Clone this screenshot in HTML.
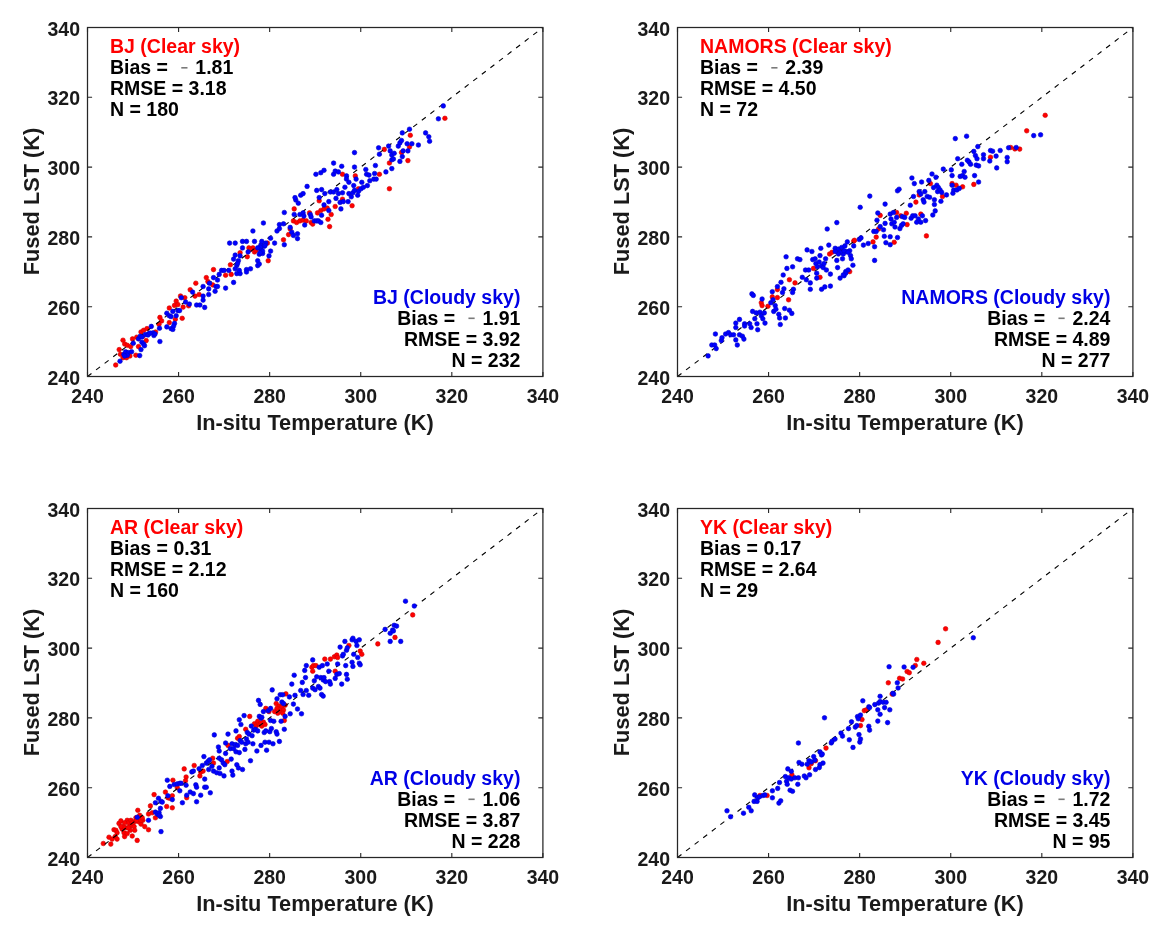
<!DOCTYPE html><html><head><meta charset="utf-8"><style>
html,body{margin:0;padding:0;background:#fff;width:1173px;height:933px;overflow:hidden}
svg{display:block;will-change:transform}text{font-family:"Liberation Sans",sans-serif;font-weight:bold}
</style></head><body>
<svg width="1173" height="933" viewBox="0 0 1173 933">
<rect width="1173" height="933" fill="#fff"/>
<g fill="#ff0000" stroke="#d00000" stroke-width="0.6"><circle cx="115.7" cy="365.0" r="2.3"/><circle cx="119.2" cy="349.6" r="2.3"/><circle cx="120.4" cy="354.3" r="2.3"/><circle cx="123.0" cy="340.2" r="2.3"/><circle cx="124.7" cy="344.0" r="2.3"/><circle cx="127.3" cy="345.3" r="2.3"/><circle cx="130.7" cy="346.6" r="2.3"/><circle cx="132.5" cy="338.9" r="2.3"/><circle cx="136.7" cy="337.2" r="2.3"/><circle cx="138.5" cy="346.6" r="2.3"/><circle cx="135.9" cy="355.2" r="2.3"/><circle cx="141.0" cy="332.0" r="2.3"/><circle cx="143.6" cy="330.3" r="2.3"/><circle cx="147.0" cy="328.6" r="2.3"/><circle cx="146.2" cy="340.6" r="2.3"/><circle cx="142.7" cy="336.3" r="2.3"/><circle cx="155.6" cy="332.0" r="2.3"/><circle cx="159.9" cy="317.4" r="2.3"/><circle cx="161.6" cy="320.9" r="2.3"/><circle cx="159.0" cy="324.3" r="2.3"/><circle cx="169.3" cy="308.0" r="2.3"/><circle cx="169.3" cy="322.6" r="2.3"/><circle cx="176.2" cy="301.1" r="2.3"/><circle cx="174.5" cy="305.4" r="2.3"/><circle cx="177.9" cy="304.6" r="2.3"/><circle cx="183.1" cy="307.1" r="2.3"/><circle cx="182.2" cy="318.3" r="2.3"/><circle cx="175.3" cy="319.2" r="2.3"/><circle cx="180.5" cy="296.0" r="2.3"/><circle cx="184.8" cy="297.7" r="2.3"/><circle cx="123.0" cy="357.7" r="2.3"/><circle cx="126.5" cy="357.7" r="2.3"/><circle cx="129.9" cy="356.0" r="2.3"/><circle cx="190.2" cy="289.7" r="2.3"/><circle cx="195.8" cy="283.2" r="2.3"/><circle cx="195.0" cy="296.1" r="2.3"/><circle cx="199.1" cy="294.5" r="2.3"/><circle cx="206.3" cy="277.6" r="2.3"/><circle cx="207.9" cy="281.6" r="2.3"/><circle cx="213.5" cy="269.6" r="2.3"/><circle cx="212.7" cy="284.9" r="2.3"/><circle cx="225.6" cy="275.2" r="2.3"/><circle cx="230.4" cy="264.8" r="2.3"/><circle cx="231.2" cy="274.4" r="2.3"/><circle cx="240.1" cy="252.7" r="2.3"/><circle cx="247.3" cy="256.7" r="2.3"/><circle cx="248.9" cy="247.9" r="2.3"/><circle cx="252.9" cy="247.9" r="2.3"/><circle cx="254.5" cy="251.9" r="2.3"/><circle cx="267.4" cy="243.1" r="2.3"/><circle cx="268.2" cy="260.7" r="2.3"/><circle cx="283.5" cy="239.8" r="2.3"/><circle cx="188.6" cy="305.8" r="2.3"/><circle cx="250.5" cy="249.5" r="2.3"/><circle cx="256.1" cy="250.3" r="2.3"/><circle cx="288.6" cy="234.6" r="2.3"/><circle cx="290.2" cy="229.0" r="2.3"/><circle cx="293.4" cy="220.9" r="2.3"/><circle cx="294.2" cy="208.9" r="2.3"/><circle cx="296.6" cy="222.5" r="2.3"/><circle cx="299.9" cy="220.9" r="2.3"/><circle cx="303.1" cy="220.1" r="2.3"/><circle cx="306.3" cy="220.9" r="2.3"/><circle cx="309.5" cy="212.9" r="2.3"/><circle cx="311.1" cy="222.5" r="2.3"/><circle cx="312.7" cy="224.1" r="2.3"/><circle cx="317.5" cy="212.9" r="2.3"/><circle cx="319.2" cy="200.8" r="2.3"/><circle cx="320.8" cy="210.5" r="2.3"/><circle cx="324.0" cy="208.9" r="2.3"/><circle cx="327.2" cy="208.1" r="2.3"/><circle cx="328.0" cy="219.3" r="2.3"/><circle cx="329.6" cy="226.6" r="2.3"/><circle cx="331.2" cy="214.5" r="2.3"/><circle cx="335.2" cy="206.5" r="2.3"/><circle cx="342.5" cy="174.3" r="2.3"/><circle cx="342.5" cy="199.2" r="2.3"/><circle cx="352.1" cy="205.7" r="2.3"/><circle cx="355.3" cy="175.9" r="2.3"/><circle cx="358.5" cy="188.8" r="2.3"/><circle cx="379.4" cy="174.3" r="2.3"/><circle cx="384.3" cy="149.4" r="2.3"/><circle cx="389.4" cy="163.0" r="2.3"/><circle cx="401.5" cy="152.5" r="2.3"/><circle cx="410.3" cy="135.3" r="2.3"/><circle cx="409.5" cy="146.9" r="2.3"/><circle cx="407.9" cy="160.6" r="2.3"/><circle cx="444.9" cy="118.3" r="2.3"/><circle cx="389.4" cy="188.7" r="2.3"/></g>
<line x1="87.5" y1="376.5" x2="542.9" y2="27.5" stroke="#000" stroke-width="1.1" stroke-dasharray="5 5.8"/>
<g fill="#0000ff" stroke="#0000c8" stroke-width="0.6"><circle cx="120.0" cy="361.2" r="2.3"/><circle cx="123.9" cy="354.3" r="2.3"/><circle cx="125.6" cy="351.7" r="2.3"/><circle cx="128.2" cy="352.6" r="2.3"/><circle cx="131.6" cy="351.7" r="2.3"/><circle cx="133.3" cy="343.2" r="2.3"/><circle cx="138.5" cy="338.9" r="2.3"/><circle cx="140.2" cy="336.3" r="2.3"/><circle cx="141.9" cy="342.3" r="2.3"/><circle cx="143.6" cy="344.0" r="2.3"/><circle cx="144.5" cy="345.7" r="2.3"/><circle cx="141.0" cy="349.6" r="2.3"/><circle cx="139.7" cy="355.6" r="2.3"/><circle cx="145.3" cy="334.6" r="2.3"/><circle cx="148.7" cy="333.7" r="2.3"/><circle cx="151.3" cy="326.4" r="2.3"/><circle cx="153.0" cy="332.9" r="2.3"/><circle cx="153.9" cy="335.5" r="2.3"/><circle cx="159.5" cy="328.2" r="2.3"/><circle cx="159.9" cy="341.5" r="2.3"/><circle cx="166.8" cy="313.2" r="2.3"/><circle cx="169.3" cy="315.7" r="2.3"/><circle cx="171.0" cy="316.6" r="2.3"/><circle cx="172.8" cy="311.4" r="2.3"/><circle cx="176.2" cy="315.7" r="2.3"/><circle cx="177.9" cy="310.6" r="2.3"/><circle cx="179.6" cy="310.6" r="2.3"/><circle cx="174.5" cy="323.4" r="2.3"/><circle cx="166.8" cy="326.9" r="2.3"/><circle cx="171.0" cy="328.6" r="2.3"/><circle cx="172.8" cy="329.4" r="2.3"/><circle cx="173.6" cy="326.0" r="2.3"/><circle cx="181.3" cy="297.7" r="2.3"/><circle cx="185.6" cy="302.0" r="2.3"/><circle cx="127.3" cy="355.2" r="2.3"/><circle cx="124.7" cy="356.0" r="2.3"/><circle cx="148.0" cy="335.0" r="2.3"/><circle cx="150.0" cy="333.0" r="2.3"/><circle cx="142.0" cy="337.0" r="2.3"/><circle cx="155.0" cy="334.0" r="2.3"/><circle cx="189.4" cy="304.1" r="2.3"/><circle cx="192.6" cy="292.1" r="2.3"/><circle cx="196.6" cy="305.0" r="2.3"/><circle cx="199.9" cy="305.0" r="2.3"/><circle cx="203.1" cy="286.5" r="2.3"/><circle cx="203.1" cy="296.1" r="2.3"/><circle cx="203.1" cy="300.1" r="2.3"/><circle cx="204.7" cy="307.4" r="2.3"/><circle cx="208.7" cy="294.5" r="2.3"/><circle cx="209.5" cy="283.2" r="2.3"/><circle cx="208.7" cy="288.9" r="2.3"/><circle cx="213.5" cy="277.6" r="2.3"/><circle cx="215.1" cy="291.3" r="2.3"/><circle cx="215.9" cy="286.5" r="2.3"/><circle cx="217.5" cy="286.5" r="2.3"/><circle cx="217.5" cy="280.0" r="2.3"/><circle cx="219.2" cy="274.4" r="2.3"/><circle cx="221.6" cy="270.4" r="2.3"/><circle cx="224.0" cy="270.4" r="2.3"/><circle cx="225.6" cy="288.1" r="2.3"/><circle cx="228.8" cy="270.4" r="2.3"/><circle cx="233.6" cy="282.4" r="2.3"/><circle cx="229.6" cy="243.1" r="2.3"/><circle cx="235.2" cy="243.1" r="2.3"/><circle cx="235.2" cy="255.1" r="2.3"/><circle cx="236.8" cy="265.6" r="2.3"/><circle cx="236.8" cy="273.6" r="2.3"/><circle cx="240.1" cy="273.6" r="2.3"/><circle cx="238.4" cy="260.7" r="2.3"/><circle cx="240.1" cy="255.9" r="2.3"/><circle cx="242.5" cy="247.9" r="2.3"/><circle cx="242.5" cy="241.4" r="2.3"/><circle cx="246.5" cy="241.4" r="2.3"/><circle cx="246.5" cy="269.6" r="2.3"/><circle cx="246.5" cy="272.0" r="2.3"/><circle cx="250.5" cy="268.8" r="2.3"/><circle cx="248.1" cy="251.9" r="2.3"/><circle cx="252.9" cy="231.0" r="2.3"/><circle cx="254.5" cy="241.4" r="2.3"/><circle cx="257.7" cy="260.7" r="2.3"/><circle cx="257.7" cy="265.6" r="2.3"/><circle cx="259.3" cy="264.0" r="2.3"/><circle cx="261.0" cy="244.7" r="2.3"/><circle cx="261.0" cy="249.5" r="2.3"/><circle cx="262.6" cy="253.5" r="2.3"/><circle cx="264.2" cy="246.3" r="2.3"/><circle cx="263.4" cy="223.0" r="2.3"/><circle cx="269.0" cy="255.9" r="2.3"/><circle cx="270.6" cy="238.2" r="2.3"/><circle cx="270.6" cy="251.1" r="2.3"/><circle cx="274.6" cy="243.1" r="2.3"/><circle cx="277.0" cy="231.0" r="2.3"/><circle cx="279.4" cy="228.6" r="2.3"/><circle cx="279.4" cy="224.6" r="2.3"/><circle cx="283.5" cy="223.8" r="2.3"/><circle cx="284.3" cy="212.5" r="2.3"/><circle cx="284.3" cy="244.7" r="2.3"/><circle cx="261.8" cy="241.4" r="2.3"/><circle cx="259.3" cy="254.3" r="2.3"/><circle cx="265.8" cy="243.1" r="2.3"/><circle cx="260.2" cy="247.1" r="2.3"/><circle cx="262.6" cy="251.1" r="2.3"/><circle cx="260.2" cy="252.7" r="2.3"/><circle cx="265.0" cy="245.5" r="2.3"/><circle cx="257.7" cy="247.9" r="2.3"/><circle cx="235.2" cy="268.8" r="2.3"/><circle cx="237.6" cy="263.2" r="2.3"/><circle cx="239.3" cy="270.4" r="2.3"/><circle cx="233.6" cy="259.1" r="2.3"/><circle cx="290.2" cy="227.4" r="2.3"/><circle cx="291.8" cy="232.2" r="2.3"/><circle cx="293.4" cy="235.4" r="2.3"/><circle cx="297.5" cy="233.8" r="2.3"/><circle cx="297.5" cy="238.6" r="2.3"/><circle cx="294.2" cy="214.5" r="2.3"/><circle cx="295.8" cy="200.0" r="2.3"/><circle cx="295.0" cy="197.6" r="2.3"/><circle cx="298.3" cy="203.2" r="2.3"/><circle cx="300.7" cy="195.2" r="2.3"/><circle cx="303.1" cy="193.6" r="2.3"/><circle cx="299.9" cy="214.5" r="2.3"/><circle cx="303.1" cy="212.9" r="2.3"/><circle cx="303.9" cy="216.1" r="2.3"/><circle cx="304.7" cy="225.0" r="2.3"/><circle cx="307.1" cy="186.4" r="2.3"/><circle cx="310.3" cy="214.5" r="2.3"/><circle cx="311.1" cy="216.9" r="2.3"/><circle cx="314.3" cy="220.9" r="2.3"/><circle cx="316.7" cy="220.9" r="2.3"/><circle cx="318.4" cy="220.9" r="2.3"/><circle cx="320.8" cy="222.5" r="2.3"/><circle cx="321.6" cy="215.3" r="2.3"/><circle cx="315.9" cy="174.3" r="2.3"/><circle cx="320.8" cy="172.7" r="2.3"/><circle cx="324.0" cy="170.3" r="2.3"/><circle cx="316.7" cy="190.4" r="2.3"/><circle cx="321.6" cy="189.6" r="2.3"/><circle cx="324.8" cy="193.6" r="2.3"/><circle cx="319.2" cy="197.6" r="2.3"/><circle cx="324.0" cy="204.9" r="2.3"/><circle cx="328.8" cy="201.6" r="2.3"/><circle cx="328.8" cy="210.5" r="2.3"/><circle cx="330.4" cy="192.0" r="2.3"/><circle cx="333.6" cy="163.1" r="2.3"/><circle cx="333.6" cy="174.3" r="2.3"/><circle cx="335.2" cy="171.1" r="2.3"/><circle cx="338.4" cy="171.9" r="2.3"/><circle cx="333.6" cy="192.0" r="2.3"/><circle cx="336.8" cy="189.6" r="2.3"/><circle cx="336.0" cy="198.4" r="2.3"/><circle cx="338.4" cy="193.6" r="2.3"/><circle cx="341.7" cy="166.3" r="2.3"/><circle cx="342.5" cy="192.8" r="2.3"/><circle cx="340.9" cy="208.9" r="2.3"/><circle cx="340.1" cy="202.4" r="2.3"/><circle cx="343.3" cy="201.6" r="2.3"/><circle cx="344.9" cy="187.2" r="2.3"/><circle cx="346.5" cy="175.9" r="2.3"/><circle cx="346.5" cy="179.1" r="2.3"/><circle cx="348.9" cy="182.3" r="2.3"/><circle cx="348.9" cy="193.6" r="2.3"/><circle cx="348.1" cy="201.6" r="2.3"/><circle cx="351.3" cy="196.8" r="2.3"/><circle cx="352.9" cy="192.8" r="2.3"/><circle cx="354.5" cy="167.1" r="2.3"/><circle cx="354.5" cy="152.6" r="2.3"/><circle cx="353.7" cy="185.6" r="2.3"/><circle cx="354.5" cy="190.4" r="2.3"/><circle cx="356.1" cy="179.1" r="2.3"/><circle cx="357.7" cy="195.2" r="2.3"/><circle cx="358.5" cy="191.2" r="2.3"/><circle cx="361.0" cy="188.8" r="2.3"/><circle cx="361.8" cy="182.3" r="2.3"/><circle cx="363.4" cy="187.2" r="2.3"/><circle cx="365.8" cy="169.5" r="2.3"/><circle cx="366.6" cy="174.3" r="2.3"/><circle cx="367.4" cy="185.6" r="2.3"/><circle cx="369.0" cy="175.1" r="2.3"/><circle cx="369.8" cy="180.7" r="2.3"/><circle cx="373.8" cy="179.1" r="2.3"/><circle cx="374.6" cy="173.5" r="2.3"/><circle cx="375.4" cy="165.5" r="2.3"/><circle cx="376.2" cy="179.1" r="2.3"/><circle cx="378.6" cy="147.8" r="2.3"/><circle cx="379.4" cy="154.2" r="2.3"/><circle cx="385.9" cy="171.9" r="2.3"/><circle cx="391.8" cy="168.6" r="2.3"/><circle cx="388.6" cy="146.1" r="2.3"/><circle cx="390.2" cy="150.9" r="2.3"/><circle cx="391.8" cy="155.0" r="2.3"/><circle cx="394.2" cy="153.3" r="2.3"/><circle cx="391.8" cy="159.8" r="2.3"/><circle cx="393.4" cy="159.0" r="2.3"/><circle cx="398.3" cy="146.1" r="2.3"/><circle cx="399.9" cy="142.9" r="2.3"/><circle cx="401.5" cy="140.5" r="2.3"/><circle cx="399.9" cy="161.4" r="2.3"/><circle cx="402.3" cy="156.6" r="2.3"/><circle cx="403.1" cy="150.9" r="2.3"/><circle cx="402.3" cy="132.9" r="2.3"/><circle cx="407.9" cy="150.9" r="2.3"/><circle cx="407.1" cy="143.7" r="2.3"/><circle cx="411.9" cy="143.7" r="2.3"/><circle cx="409.5" cy="129.2" r="2.3"/><circle cx="418.4" cy="145.0" r="2.3"/><circle cx="425.6" cy="132.9" r="2.3"/><circle cx="428.8" cy="136.8" r="2.3"/><circle cx="429.6" cy="141.3" r="2.3"/><circle cx="438.4" cy="118.8" r="2.3"/><circle cx="443.3" cy="105.9" r="2.3"/></g>
<rect x="87.5" y="27.5" width="455.4" height="349" fill="none" stroke="#262626" stroke-width="1.25"/>
<path d="M87.50 376.5v-4.6M87.50 27.5v4.6M87.5 376.50h4.6M542.9 376.50h-4.6M178.58 376.5v-4.6M178.58 27.5v4.6M87.5 306.70h4.6M542.9 306.70h-4.6M269.66 376.5v-4.6M269.66 27.5v4.6M87.5 236.90h4.6M542.9 236.90h-4.6M360.74 376.5v-4.6M360.74 27.5v4.6M87.5 167.10h4.6M542.9 167.10h-4.6M451.82 376.5v-4.6M451.82 27.5v4.6M87.5 97.30h4.6M542.9 97.30h-4.6M542.90 376.5v-4.6M542.90 27.5v4.6M87.5 27.50h4.6M542.9 27.50h-4.6" stroke="#262626" stroke-width="1.1" fill="none"/>
<g font-size="19.5" fill="#1a1a1a"><text x="87.50" y="402.50" text-anchor="middle">240</text><text x="80.00" y="384.60" text-anchor="end">240</text><text x="178.58" y="402.50" text-anchor="middle">260</text><text x="80.00" y="314.80" text-anchor="end">260</text><text x="269.66" y="402.50" text-anchor="middle">280</text><text x="80.00" y="245.00" text-anchor="end">280</text><text x="360.74" y="402.50" text-anchor="middle">300</text><text x="80.00" y="175.20" text-anchor="end">300</text><text x="451.82" y="402.50" text-anchor="middle">320</text><text x="80.00" y="105.40" text-anchor="end">320</text><text x="542.90" y="402.50" text-anchor="middle">340</text><text x="80.00" y="35.60" text-anchor="end">340</text></g>
<text x="315.00" y="430.00" font-size="21.75" text-anchor="middle" fill="#1a1a1a">In-situ Temperature (K)</text>
<text transform="translate(39.20,201.50) rotate(-90)" x="0" y="0" font-size="21.75" text-anchor="middle" fill="#1a1a1a">Fused LST (K)</text>
<g font-size="19.5" fill="#000"><text x="110" y="53.30" fill="#ff0000">BJ (Clear sky)</text><text x="110.00" y="74.20">Bias =</text><rect x="181.29" y="67.00" width="6.2" height="1.6" fill="#7a7a7a"/><text x="195.29" y="74.20">1.81</text><text x="110" y="95.10">RMSE = 3.18</text><text x="110" y="116.00">N = 180</text><text x="520.4" y="303.80" fill="#0000e6" text-anchor="end">BJ (Cloudy sky)</text><text x="397.16" y="324.70">Bias =</text><rect x="468.45" y="317.50" width="6.2" height="1.6" fill="#7a7a7a"/><text x="482.45" y="324.70">1.91</text><text x="520.4" y="345.60" text-anchor="end">RMSE = 3.92</text><text x="520.4" y="366.50" text-anchor="end">N = 232</text></g>
<g fill="#ff0000" stroke="#d00000" stroke-width="0.6"><circle cx="761.3" cy="302.7" r="2.3"/><circle cx="762.1" cy="305.6" r="2.3"/><circle cx="767.9" cy="306.3" r="2.3"/><circle cx="772.3" cy="296.9" r="2.3"/><circle cx="777.4" cy="297.6" r="2.3"/><circle cx="777.4" cy="289.6" r="2.3"/><circle cx="789.4" cy="279.7" r="2.3"/><circle cx="795.0" cy="282.9" r="2.3"/><circle cx="788.6" cy="299.8" r="2.3"/><circle cx="813.5" cy="268.4" r="2.3"/><circle cx="820.0" cy="277.3" r="2.3"/><circle cx="829.6" cy="254.0" r="2.3"/><circle cx="832.0" cy="252.3" r="2.3"/><circle cx="836.8" cy="251.5" r="2.3"/><circle cx="840.1" cy="250.7" r="2.3"/><circle cx="849.7" cy="271.6" r="2.3"/><circle cx="853.7" cy="241.1" r="2.3"/><circle cx="854.5" cy="240.3" r="2.3"/><circle cx="873.0" cy="241.9" r="2.3"/><circle cx="876.2" cy="237.1" r="2.3"/><circle cx="878.6" cy="229.0" r="2.3"/><circle cx="880.2" cy="215.4" r="2.3"/><circle cx="894.2" cy="242.3" r="2.3"/><circle cx="896.6" cy="212.5" r="2.3"/><circle cx="900.7" cy="215.8" r="2.3"/><circle cx="906.3" cy="213.3" r="2.3"/><circle cx="907.1" cy="224.6" r="2.3"/><circle cx="915.9" cy="202.1" r="2.3"/><circle cx="919.2" cy="194.9" r="2.3"/><circle cx="920.8" cy="214.1" r="2.3"/><circle cx="926.4" cy="235.9" r="2.3"/><circle cx="930.4" cy="183.6" r="2.3"/><circle cx="942.5" cy="196.5" r="2.3"/><circle cx="952.1" cy="183.6" r="2.3"/><circle cx="956.1" cy="185.2" r="2.3"/><circle cx="962.6" cy="186.8" r="2.3"/><circle cx="973.8" cy="184.4" r="2.3"/><circle cx="990.5" cy="157.2" r="2.3"/><circle cx="1010.7" cy="147.5" r="2.3"/><circle cx="1014.9" cy="148.9" r="2.3"/><circle cx="1019.7" cy="149.1" r="2.3"/><circle cx="1026.7" cy="130.8" r="2.3"/><circle cx="1045.2" cy="115.3" r="2.3"/></g>
<line x1="677.5" y1="376.5" x2="1132.9" y2="27.5" stroke="#000" stroke-width="1.1" stroke-dasharray="5 5.8"/>
<g fill="#0000ff" stroke="#0000c8" stroke-width="0.6"><circle cx="708.1" cy="355.9" r="2.3"/><circle cx="711.8" cy="345.0" r="2.3"/><circle cx="714.7" cy="345.0" r="2.3"/><circle cx="716.2" cy="348.6" r="2.3"/><circle cx="715.4" cy="334.0" r="2.3"/><circle cx="721.3" cy="340.6" r="2.3"/><circle cx="722.0" cy="337.7" r="2.3"/><circle cx="725.6" cy="334.0" r="2.3"/><circle cx="728.5" cy="332.6" r="2.3"/><circle cx="730.7" cy="334.8" r="2.3"/><circle cx="733.6" cy="334.8" r="2.3"/><circle cx="735.8" cy="323.1" r="2.3"/><circle cx="735.8" cy="327.5" r="2.3"/><circle cx="735.8" cy="339.9" r="2.3"/><circle cx="737.3" cy="345.0" r="2.3"/><circle cx="739.5" cy="319.4" r="2.3"/><circle cx="739.5" cy="334.8" r="2.3"/><circle cx="742.4" cy="336.2" r="2.3"/><circle cx="743.9" cy="339.1" r="2.3"/><circle cx="744.6" cy="323.8" r="2.3"/><circle cx="744.6" cy="326.0" r="2.3"/><circle cx="749.7" cy="323.8" r="2.3"/><circle cx="751.1" cy="327.5" r="2.3"/><circle cx="751.9" cy="293.9" r="2.3"/><circle cx="753.3" cy="295.4" r="2.3"/><circle cx="752.6" cy="311.4" r="2.3"/><circle cx="754.8" cy="318.7" r="2.3"/><circle cx="756.2" cy="312.9" r="2.3"/><circle cx="757.0" cy="323.8" r="2.3"/><circle cx="757.7" cy="329.7" r="2.3"/><circle cx="759.9" cy="312.2" r="2.3"/><circle cx="761.3" cy="315.8" r="2.3"/><circle cx="762.1" cy="299.0" r="2.3"/><circle cx="762.8" cy="318.7" r="2.3"/><circle cx="765.0" cy="323.1" r="2.3"/><circle cx="764.3" cy="312.9" r="2.3"/><circle cx="770.8" cy="302.7" r="2.3"/><circle cx="772.3" cy="291.7" r="2.3"/><circle cx="773.0" cy="299.8" r="2.3"/><circle cx="773.7" cy="311.4" r="2.3"/><circle cx="775.2" cy="305.6" r="2.3"/><circle cx="775.9" cy="309.2" r="2.3"/><circle cx="777.4" cy="286.6" r="2.3"/><circle cx="778.8" cy="314.3" r="2.3"/><circle cx="779.6" cy="318.0" r="2.3"/><circle cx="780.3" cy="324.5" r="2.3"/><circle cx="781.0" cy="282.3" r="2.3"/><circle cx="782.5" cy="292.5" r="2.3"/><circle cx="783.2" cy="275.0" r="2.3"/><circle cx="783.9" cy="288.8" r="2.3"/><circle cx="784.7" cy="308.5" r="2.3"/><circle cx="785.4" cy="318.0" r="2.3"/><circle cx="786.1" cy="256.8" r="2.3"/><circle cx="786.9" cy="268.4" r="2.3"/><circle cx="792.6" cy="266.8" r="2.3"/><circle cx="797.5" cy="258.8" r="2.3"/><circle cx="799.9" cy="259.6" r="2.3"/><circle cx="793.4" cy="289.3" r="2.3"/><circle cx="792.6" cy="292.5" r="2.3"/><circle cx="791.8" cy="313.4" r="2.3"/><circle cx="789.4" cy="310.2" r="2.3"/><circle cx="802.3" cy="277.3" r="2.3"/><circle cx="805.5" cy="270.0" r="2.3"/><circle cx="806.3" cy="279.7" r="2.3"/><circle cx="807.1" cy="249.9" r="2.3"/><circle cx="808.7" cy="270.0" r="2.3"/><circle cx="810.3" cy="282.9" r="2.3"/><circle cx="810.3" cy="289.3" r="2.3"/><circle cx="811.9" cy="251.5" r="2.3"/><circle cx="812.7" cy="259.6" r="2.3"/><circle cx="815.1" cy="258.8" r="2.3"/><circle cx="815.9" cy="263.6" r="2.3"/><circle cx="816.7" cy="273.2" r="2.3"/><circle cx="816.7" cy="278.1" r="2.3"/><circle cx="819.2" cy="262.0" r="2.3"/><circle cx="820.8" cy="248.3" r="2.3"/><circle cx="820.0" cy="255.6" r="2.3"/><circle cx="821.6" cy="266.0" r="2.3"/><circle cx="821.6" cy="289.3" r="2.3"/><circle cx="823.2" cy="267.6" r="2.3"/><circle cx="824.8" cy="286.9" r="2.3"/><circle cx="825.6" cy="258.8" r="2.3"/><circle cx="826.4" cy="270.0" r="2.3"/><circle cx="827.2" cy="229.0" r="2.3"/><circle cx="828.8" cy="245.1" r="2.3"/><circle cx="830.4" cy="274.1" r="2.3"/><circle cx="830.4" cy="286.1" r="2.3"/><circle cx="835.2" cy="248.3" r="2.3"/><circle cx="836.8" cy="222.6" r="2.3"/><circle cx="836.8" cy="260.4" r="2.3"/><circle cx="837.6" cy="267.6" r="2.3"/><circle cx="838.4" cy="249.1" r="2.3"/><circle cx="840.1" cy="278.1" r="2.3"/><circle cx="841.7" cy="247.5" r="2.3"/><circle cx="842.5" cy="258.8" r="2.3"/><circle cx="843.3" cy="254.0" r="2.3"/><circle cx="844.1" cy="275.7" r="2.3"/><circle cx="844.9" cy="245.9" r="2.3"/><circle cx="845.7" cy="271.6" r="2.3"/><circle cx="846.5" cy="251.5" r="2.3"/><circle cx="847.3" cy="241.9" r="2.3"/><circle cx="848.1" cy="270.0" r="2.3"/><circle cx="849.7" cy="250.7" r="2.3"/><circle cx="850.5" cy="255.6" r="2.3"/><circle cx="851.3" cy="258.8" r="2.3"/><circle cx="852.9" cy="265.2" r="2.3"/><circle cx="853.7" cy="245.9" r="2.3"/><circle cx="859.3" cy="239.5" r="2.3"/><circle cx="860.2" cy="207.3" r="2.3"/><circle cx="861.0" cy="237.9" r="2.3"/><circle cx="863.4" cy="245.1" r="2.3"/><circle cx="868.2" cy="243.5" r="2.3"/><circle cx="869.8" cy="196.1" r="2.3"/><circle cx="874.6" cy="246.7" r="2.3"/><circle cx="874.6" cy="260.4" r="2.3"/><circle cx="873.8" cy="231.4" r="2.3"/><circle cx="876.2" cy="231.4" r="2.3"/><circle cx="877.0" cy="220.2" r="2.3"/><circle cx="877.8" cy="213.0" r="2.3"/><circle cx="880.2" cy="226.6" r="2.3"/><circle cx="883.5" cy="229.8" r="2.3"/><circle cx="885.1" cy="204.1" r="2.3"/><circle cx="884.3" cy="236.3" r="2.3"/><circle cx="885.9" cy="242.7" r="2.3"/><circle cx="885.1" cy="223.4" r="2.3"/><circle cx="840.1" cy="252.3" r="2.3"/><circle cx="844.1" cy="250.7" r="2.3"/><circle cx="848.1" cy="252.3" r="2.3"/><circle cx="838.4" cy="254.0" r="2.3"/><circle cx="835.2" cy="251.5" r="2.3"/><circle cx="845.7" cy="273.2" r="2.3"/><circle cx="843.3" cy="274.9" r="2.3"/><circle cx="824.0" cy="263.6" r="2.3"/><circle cx="817.5" cy="266.8" r="2.3"/><circle cx="890.2" cy="214.1" r="2.3"/><circle cx="891.0" cy="219.0" r="2.3"/><circle cx="891.8" cy="223.8" r="2.3"/><circle cx="893.4" cy="212.5" r="2.3"/><circle cx="894.2" cy="222.2" r="2.3"/><circle cx="895.0" cy="227.0" r="2.3"/><circle cx="896.6" cy="217.4" r="2.3"/><circle cx="897.5" cy="190.8" r="2.3"/><circle cx="899.1" cy="189.2" r="2.3"/><circle cx="899.9" cy="228.6" r="2.3"/><circle cx="901.5" cy="225.4" r="2.3"/><circle cx="902.3" cy="216.6" r="2.3"/><circle cx="903.1" cy="223.8" r="2.3"/><circle cx="904.7" cy="217.4" r="2.3"/><circle cx="890.2" cy="236.7" r="2.3"/><circle cx="897.5" cy="237.5" r="2.3"/><circle cx="910.3" cy="205.3" r="2.3"/><circle cx="911.1" cy="218.2" r="2.3"/><circle cx="911.9" cy="178.0" r="2.3"/><circle cx="912.7" cy="215.8" r="2.3"/><circle cx="913.5" cy="196.5" r="2.3"/><circle cx="914.3" cy="183.6" r="2.3"/><circle cx="915.1" cy="215.8" r="2.3"/><circle cx="916.7" cy="222.2" r="2.3"/><circle cx="918.4" cy="219.0" r="2.3"/><circle cx="919.2" cy="191.6" r="2.3"/><circle cx="920.8" cy="194.1" r="2.3"/><circle cx="920.8" cy="222.2" r="2.3"/><circle cx="921.6" cy="182.0" r="2.3"/><circle cx="922.4" cy="215.8" r="2.3"/><circle cx="923.2" cy="199.7" r="2.3"/><circle cx="924.0" cy="202.1" r="2.3"/><circle cx="924.8" cy="191.6" r="2.3"/><circle cx="925.6" cy="220.6" r="2.3"/><circle cx="927.2" cy="196.5" r="2.3"/><circle cx="928.8" cy="180.4" r="2.3"/><circle cx="929.6" cy="197.3" r="2.3"/><circle cx="932.0" cy="174.0" r="2.3"/><circle cx="932.8" cy="215.0" r="2.3"/><circle cx="933.6" cy="187.6" r="2.3"/><circle cx="934.4" cy="204.5" r="2.3"/><circle cx="934.4" cy="199.7" r="2.3"/><circle cx="935.2" cy="210.9" r="2.3"/><circle cx="936.0" cy="177.2" r="2.3"/><circle cx="936.8" cy="185.2" r="2.3"/><circle cx="937.6" cy="191.6" r="2.3"/><circle cx="938.4" cy="187.6" r="2.3"/><circle cx="940.1" cy="190.0" r="2.3"/><circle cx="940.9" cy="201.3" r="2.3"/><circle cx="941.7" cy="192.4" r="2.3"/><circle cx="943.3" cy="169.1" r="2.3"/><circle cx="946.5" cy="194.9" r="2.3"/><circle cx="951.3" cy="169.9" r="2.3"/><circle cx="952.1" cy="175.6" r="2.3"/><circle cx="952.1" cy="185.2" r="2.3"/><circle cx="952.9" cy="193.2" r="2.3"/><circle cx="953.7" cy="190.0" r="2.3"/><circle cx="955.3" cy="138.6" r="2.3"/><circle cx="956.9" cy="190.0" r="2.3"/><circle cx="957.7" cy="158.7" r="2.3"/><circle cx="959.3" cy="188.4" r="2.3"/><circle cx="960.2" cy="176.4" r="2.3"/><circle cx="961.8" cy="164.3" r="2.3"/><circle cx="962.6" cy="175.6" r="2.3"/><circle cx="964.2" cy="171.5" r="2.3"/><circle cx="965.0" cy="177.2" r="2.3"/><circle cx="966.6" cy="136.2" r="2.3"/><circle cx="967.4" cy="160.3" r="2.3"/><circle cx="969.0" cy="161.9" r="2.3"/><circle cx="970.6" cy="164.3" r="2.3"/><circle cx="973.8" cy="151.4" r="2.3"/><circle cx="974.6" cy="175.6" r="2.3"/><circle cx="975.4" cy="155.5" r="2.3"/><circle cx="976.2" cy="165.1" r="2.3"/><circle cx="977.0" cy="158.7" r="2.3"/><circle cx="977.8" cy="146.6" r="2.3"/><circle cx="978.6" cy="165.9" r="2.3"/><circle cx="978.6" cy="182.0" r="2.3"/><circle cx="983.5" cy="154.7" r="2.3"/><circle cx="983.5" cy="158.7" r="2.3"/><circle cx="890.2" cy="244.7" r="2.3"/><circle cx="990.5" cy="150.5" r="2.3"/><circle cx="992.6" cy="151.2" r="2.3"/><circle cx="989.8" cy="161.0" r="2.3"/><circle cx="996.1" cy="156.1" r="2.3"/><circle cx="996.7" cy="167.9" r="2.3"/><circle cx="1000.2" cy="150.5" r="2.3"/><circle cx="1007.2" cy="157.5" r="2.3"/><circle cx="1007.2" cy="161.7" r="2.3"/><circle cx="1008.6" cy="147.7" r="2.3"/><circle cx="1016.2" cy="147.5" r="2.3"/><circle cx="1033.7" cy="135.6" r="2.3"/><circle cx="1040.6" cy="134.8" r="2.3"/></g>
<rect x="677.5" y="27.5" width="455.4" height="349" fill="none" stroke="#262626" stroke-width="1.25"/>
<path d="M677.50 376.5v-4.6M677.50 27.5v4.6M677.5 376.50h4.6M1132.9 376.50h-4.6M768.58 376.5v-4.6M768.58 27.5v4.6M677.5 306.70h4.6M1132.9 306.70h-4.6M859.66 376.5v-4.6M859.66 27.5v4.6M677.5 236.90h4.6M1132.9 236.90h-4.6M950.74 376.5v-4.6M950.74 27.5v4.6M677.5 167.10h4.6M1132.9 167.10h-4.6M1041.82 376.5v-4.6M1041.82 27.5v4.6M677.5 97.30h4.6M1132.9 97.30h-4.6M1132.90 376.5v-4.6M1132.90 27.5v4.6M677.5 27.50h4.6M1132.9 27.50h-4.6" stroke="#262626" stroke-width="1.1" fill="none"/>
<g font-size="19.5" fill="#1a1a1a"><text x="677.50" y="402.50" text-anchor="middle">240</text><text x="670.00" y="384.60" text-anchor="end">240</text><text x="768.58" y="402.50" text-anchor="middle">260</text><text x="670.00" y="314.80" text-anchor="end">260</text><text x="859.66" y="402.50" text-anchor="middle">280</text><text x="670.00" y="245.00" text-anchor="end">280</text><text x="950.74" y="402.50" text-anchor="middle">300</text><text x="670.00" y="175.20" text-anchor="end">300</text><text x="1041.82" y="402.50" text-anchor="middle">320</text><text x="670.00" y="105.40" text-anchor="end">320</text><text x="1132.90" y="402.50" text-anchor="middle">340</text><text x="670.00" y="35.60" text-anchor="end">340</text></g>
<text x="905.00" y="430.00" font-size="21.75" text-anchor="middle" fill="#1a1a1a">In-situ Temperature (K)</text>
<text transform="translate(629.20,201.50) rotate(-90)" x="0" y="0" font-size="21.75" text-anchor="middle" fill="#1a1a1a">Fused LST (K)</text>
<g font-size="19.5" fill="#000"><text x="700" y="53.30" fill="#ff0000">NAMORS (Clear sky)</text><text x="700.00" y="74.20">Bias =</text><rect x="771.29" y="67.00" width="6.2" height="1.6" fill="#7a7a7a"/><text x="785.29" y="74.20">2.39</text><text x="700" y="95.10">RMSE = 4.50</text><text x="700" y="116.00">N = 72</text><text x="1110.4" y="303.80" fill="#0000e6" text-anchor="end">NAMORS (Cloudy sky)</text><text x="987.16" y="324.70">Bias =</text><rect x="1058.45" y="317.50" width="6.2" height="1.6" fill="#7a7a7a"/><text x="1072.45" y="324.70">2.24</text><text x="1110.4" y="345.60" text-anchor="end">RMSE = 4.89</text><text x="1110.4" y="366.50" text-anchor="end">N = 277</text></g>
<g fill="#ff0000" stroke="#d00000" stroke-width="0.6"><circle cx="103.3" cy="843.5" r="2.3"/><circle cx="109.0" cy="837.2" r="2.3"/><circle cx="110.8" cy="844.1" r="2.3"/><circle cx="114.0" cy="829.7" r="2.3"/><circle cx="115.9" cy="830.3" r="2.3"/><circle cx="115.2" cy="836.6" r="2.3"/><circle cx="117.1" cy="839.1" r="2.3"/><circle cx="119.0" cy="823.4" r="2.3"/><circle cx="120.9" cy="820.9" r="2.3"/><circle cx="122.1" cy="829.1" r="2.3"/><circle cx="124.0" cy="832.8" r="2.3"/><circle cx="124.6" cy="836.6" r="2.3"/><circle cx="125.9" cy="827.8" r="2.3"/><circle cx="127.2" cy="820.3" r="2.3"/><circle cx="128.4" cy="822.8" r="2.3"/><circle cx="129.7" cy="826.6" r="2.3"/><circle cx="130.3" cy="830.3" r="2.3"/><circle cx="130.9" cy="820.3" r="2.3"/><circle cx="132.2" cy="825.3" r="2.3"/><circle cx="132.2" cy="836.0" r="2.3"/><circle cx="134.1" cy="826.6" r="2.3"/><circle cx="134.7" cy="821.6" r="2.3"/><circle cx="135.9" cy="817.8" r="2.3"/><circle cx="137.2" cy="840.4" r="2.3"/><circle cx="137.8" cy="810.3" r="2.3"/><circle cx="138.4" cy="821.6" r="2.3"/><circle cx="139.7" cy="815.3" r="2.3"/><circle cx="141.0" cy="824.1" r="2.3"/><circle cx="142.8" cy="820.3" r="2.3"/><circle cx="144.7" cy="826.6" r="2.3"/><circle cx="148.5" cy="829.7" r="2.3"/><circle cx="148.5" cy="814.0" r="2.3"/><circle cx="150.4" cy="805.9" r="2.3"/><circle cx="152.2" cy="812.8" r="2.3"/><circle cx="154.1" cy="794.6" r="2.3"/><circle cx="155.4" cy="817.8" r="2.3"/><circle cx="165.4" cy="792.1" r="2.3"/><circle cx="166.7" cy="806.5" r="2.3"/><circle cx="167.9" cy="797.7" r="2.3"/><circle cx="169.8" cy="798.3" r="2.3"/><circle cx="172.3" cy="795.8" r="2.3"/><circle cx="172.3" cy="807.8" r="2.3"/><circle cx="172.9" cy="780.2" r="2.3"/><circle cx="177.3" cy="787.7" r="2.3"/><circle cx="184.2" cy="768.9" r="2.3"/><circle cx="186.1" cy="777.0" r="2.3"/><circle cx="185.5" cy="780.8" r="2.3"/><circle cx="186.7" cy="797.7" r="2.3"/><circle cx="123.4" cy="826.6" r="2.3"/><circle cx="128.4" cy="827.8" r="2.3"/><circle cx="132.2" cy="822.8" r="2.3"/><circle cx="124.6" cy="822.8" r="2.3"/><circle cx="136.6" cy="820.3" r="2.3"/><circle cx="141.0" cy="820.3" r="2.3"/><circle cx="120.9" cy="826.6" r="2.3"/><circle cx="117.1" cy="832.8" r="2.3"/><circle cx="112.1" cy="839.1" r="2.3"/><circle cx="127.2" cy="833.5" r="2.3"/><circle cx="134.7" cy="830.3" r="2.3"/><circle cx="142.2" cy="817.8" r="2.3"/><circle cx="194.2" cy="765.5" r="2.3"/><circle cx="199.9" cy="775.9" r="2.3"/><circle cx="200.7" cy="771.9" r="2.3"/><circle cx="203.1" cy="771.1" r="2.3"/><circle cx="212.7" cy="758.2" r="2.3"/><circle cx="213.5" cy="763.1" r="2.3"/><circle cx="227.2" cy="761.5" r="2.3"/><circle cx="228.0" cy="745.4" r="2.3"/><circle cx="237.6" cy="738.2" r="2.3"/><circle cx="239.3" cy="736.5" r="2.3"/><circle cx="245.7" cy="729.3" r="2.3"/><circle cx="249.7" cy="716.4" r="2.3"/><circle cx="254.5" cy="723.7" r="2.3"/><circle cx="256.1" cy="726.1" r="2.3"/><circle cx="257.7" cy="721.3" r="2.3"/><circle cx="261.8" cy="726.1" r="2.3"/><circle cx="263.4" cy="722.1" r="2.3"/><circle cx="265.8" cy="708.4" r="2.3"/><circle cx="274.6" cy="711.6" r="2.3"/><circle cx="276.2" cy="703.6" r="2.3"/><circle cx="277.8" cy="713.2" r="2.3"/><circle cx="279.4" cy="706.0" r="2.3"/><circle cx="281.9" cy="706.8" r="2.3"/><circle cx="284.3" cy="720.5" r="2.3"/><circle cx="285.9" cy="693.9" r="2.3"/><circle cx="277.0" cy="708.4" r="2.3"/><circle cx="280.2" cy="710.8" r="2.3"/><circle cx="283.5" cy="710.0" r="2.3"/><circle cx="282.7" cy="713.2" r="2.3"/><circle cx="285.1" cy="705.2" r="2.3"/><circle cx="259.3" cy="724.5" r="2.3"/><circle cx="265.0" cy="724.5" r="2.3"/><circle cx="261.0" cy="722.9" r="2.3"/><circle cx="269.0" cy="711.6" r="2.3"/><circle cx="267.4" cy="710.0" r="2.3"/><circle cx="311.9" cy="667.2" r="2.3"/><circle cx="313.5" cy="665.6" r="2.3"/><circle cx="315.9" cy="665.6" r="2.3"/><circle cx="312.7" cy="671.2" r="2.3"/><circle cx="324.8" cy="659.1" r="2.3"/><circle cx="330.4" cy="659.1" r="2.3"/><circle cx="334.4" cy="656.7" r="2.3"/><circle cx="336.8" cy="655.1" r="2.3"/><circle cx="337.6" cy="657.5" r="2.3"/><circle cx="335.2" cy="671.2" r="2.3"/><circle cx="348.9" cy="645.5" r="2.3"/><circle cx="360.2" cy="651.1" r="2.3"/><circle cx="361.8" cy="654.3" r="2.3"/><circle cx="377.8" cy="643.9" r="2.3"/><circle cx="395.0" cy="637.4" r="2.3"/><circle cx="412.7" cy="614.9" r="2.3"/></g>
<line x1="87.5" y1="857.5" x2="542.9" y2="508.5" stroke="#000" stroke-width="1.1" stroke-dasharray="5 5.8"/>
<g fill="#0000ff" stroke="#0000c8" stroke-width="0.6"><circle cx="137.2" cy="817.2" r="2.3"/><circle cx="148.5" cy="820.3" r="2.3"/><circle cx="155.4" cy="802.7" r="2.3"/><circle cx="158.5" cy="798.3" r="2.3"/><circle cx="161.0" cy="801.5" r="2.3"/><circle cx="162.3" cy="802.1" r="2.3"/><circle cx="155.4" cy="812.1" r="2.3"/><circle cx="157.3" cy="814.0" r="2.3"/><circle cx="159.1" cy="812.8" r="2.3"/><circle cx="160.4" cy="808.4" r="2.3"/><circle cx="160.4" cy="816.5" r="2.3"/><circle cx="159.1" cy="815.3" r="2.3"/><circle cx="161.0" cy="831.6" r="2.3"/><circle cx="167.3" cy="780.2" r="2.3"/><circle cx="167.9" cy="795.8" r="2.3"/><circle cx="169.8" cy="786.4" r="2.3"/><circle cx="172.3" cy="799.6" r="2.3"/><circle cx="174.2" cy="784.5" r="2.3"/><circle cx="177.3" cy="783.9" r="2.3"/><circle cx="179.8" cy="783.3" r="2.3"/><circle cx="181.1" cy="783.3" r="2.3"/><circle cx="179.8" cy="790.8" r="2.3"/><circle cx="182.4" cy="802.7" r="2.3"/><circle cx="186.1" cy="785.2" r="2.3"/><circle cx="186.7" cy="795.2" r="2.3"/><circle cx="191.8" cy="771.9" r="2.3"/><circle cx="193.4" cy="771.1" r="2.3"/><circle cx="190.2" cy="792.0" r="2.3"/><circle cx="193.4" cy="793.6" r="2.3"/><circle cx="195.8" cy="784.8" r="2.3"/><circle cx="196.6" cy="787.2" r="2.3"/><circle cx="196.6" cy="801.7" r="2.3"/><circle cx="199.1" cy="768.7" r="2.3"/><circle cx="200.7" cy="795.2" r="2.3"/><circle cx="202.3" cy="765.5" r="2.3"/><circle cx="203.9" cy="756.6" r="2.3"/><circle cx="204.7" cy="779.1" r="2.3"/><circle cx="204.7" cy="787.2" r="2.3"/><circle cx="206.3" cy="763.1" r="2.3"/><circle cx="206.3" cy="787.2" r="2.3"/><circle cx="207.9" cy="761.5" r="2.3"/><circle cx="208.7" cy="769.5" r="2.3"/><circle cx="209.5" cy="759.9" r="2.3"/><circle cx="210.3" cy="792.8" r="2.3"/><circle cx="211.9" cy="766.3" r="2.3"/><circle cx="213.5" cy="771.1" r="2.3"/><circle cx="214.3" cy="734.9" r="2.3"/><circle cx="216.7" cy="772.7" r="2.3"/><circle cx="218.4" cy="747.0" r="2.3"/><circle cx="219.2" cy="751.0" r="2.3"/><circle cx="219.2" cy="758.2" r="2.3"/><circle cx="219.2" cy="767.9" r="2.3"/><circle cx="220.0" cy="773.5" r="2.3"/><circle cx="221.6" cy="759.9" r="2.3"/><circle cx="223.2" cy="763.1" r="2.3"/><circle cx="224.0" cy="775.9" r="2.3"/><circle cx="224.8" cy="764.7" r="2.3"/><circle cx="225.6" cy="743.0" r="2.3"/><circle cx="225.6" cy="753.4" r="2.3"/><circle cx="228.0" cy="734.1" r="2.3"/><circle cx="230.4" cy="748.6" r="2.3"/><circle cx="231.2" cy="759.1" r="2.3"/><circle cx="232.0" cy="743.8" r="2.3"/><circle cx="232.0" cy="771.1" r="2.3"/><circle cx="232.8" cy="775.1" r="2.3"/><circle cx="233.6" cy="748.6" r="2.3"/><circle cx="235.2" cy="744.6" r="2.3"/><circle cx="236.0" cy="730.9" r="2.3"/><circle cx="236.0" cy="751.8" r="2.3"/><circle cx="236.8" cy="764.7" r="2.3"/><circle cx="237.6" cy="745.4" r="2.3"/><circle cx="238.4" cy="767.9" r="2.3"/><circle cx="239.3" cy="719.7" r="2.3"/><circle cx="239.3" cy="752.6" r="2.3"/><circle cx="240.1" cy="740.6" r="2.3"/><circle cx="240.9" cy="724.5" r="2.3"/><circle cx="241.7" cy="742.2" r="2.3"/><circle cx="242.5" cy="769.5" r="2.3"/><circle cx="244.1" cy="715.6" r="2.3"/><circle cx="244.9" cy="749.4" r="2.3"/><circle cx="245.7" cy="743.8" r="2.3"/><circle cx="246.5" cy="739.0" r="2.3"/><circle cx="247.3" cy="732.5" r="2.3"/><circle cx="248.1" cy="742.2" r="2.3"/><circle cx="248.9" cy="734.1" r="2.3"/><circle cx="250.5" cy="760.7" r="2.3"/><circle cx="251.3" cy="726.1" r="2.3"/><circle cx="252.1" cy="735.7" r="2.3"/><circle cx="252.9" cy="743.8" r="2.3"/><circle cx="253.7" cy="730.1" r="2.3"/><circle cx="255.3" cy="729.3" r="2.3"/><circle cx="256.9" cy="751.0" r="2.3"/><circle cx="257.7" cy="730.9" r="2.3"/><circle cx="258.5" cy="700.4" r="2.3"/><circle cx="259.3" cy="716.4" r="2.3"/><circle cx="260.2" cy="704.4" r="2.3"/><circle cx="261.0" cy="718.1" r="2.3"/><circle cx="261.0" cy="745.4" r="2.3"/><circle cx="261.8" cy="717.3" r="2.3"/><circle cx="263.4" cy="711.6" r="2.3"/><circle cx="264.2" cy="732.5" r="2.3"/><circle cx="265.0" cy="742.2" r="2.3"/><circle cx="265.8" cy="730.9" r="2.3"/><circle cx="266.6" cy="750.2" r="2.3"/><circle cx="268.2" cy="710.8" r="2.3"/><circle cx="269.0" cy="742.2" r="2.3"/><circle cx="269.8" cy="731.7" r="2.3"/><circle cx="270.6" cy="708.4" r="2.3"/><circle cx="270.6" cy="720.5" r="2.3"/><circle cx="271.4" cy="728.5" r="2.3"/><circle cx="273.0" cy="743.8" r="2.3"/><circle cx="273.8" cy="721.3" r="2.3"/><circle cx="276.2" cy="731.7" r="2.3"/><circle cx="277.0" cy="734.1" r="2.3"/><circle cx="277.0" cy="698.8" r="2.3"/><circle cx="279.4" cy="741.4" r="2.3"/><circle cx="280.2" cy="694.7" r="2.3"/><circle cx="281.1" cy="721.3" r="2.3"/><circle cx="281.9" cy="702.0" r="2.3"/><circle cx="282.7" cy="694.7" r="2.3"/><circle cx="283.5" cy="703.6" r="2.3"/><circle cx="284.3" cy="729.3" r="2.3"/><circle cx="285.1" cy="716.4" r="2.3"/><circle cx="272.2" cy="689.9" r="2.3"/><circle cx="289.4" cy="696.9" r="2.3"/><circle cx="290.2" cy="713.8" r="2.3"/><circle cx="291.8" cy="684.1" r="2.3"/><circle cx="294.2" cy="675.2" r="2.3"/><circle cx="295.0" cy="695.3" r="2.3"/><circle cx="293.4" cy="704.1" r="2.3"/><circle cx="297.5" cy="709.0" r="2.3"/><circle cx="300.7" cy="690.5" r="2.3"/><circle cx="301.5" cy="713.8" r="2.3"/><circle cx="302.3" cy="682.4" r="2.3"/><circle cx="303.1" cy="694.5" r="2.3"/><circle cx="304.7" cy="670.4" r="2.3"/><circle cx="305.5" cy="677.6" r="2.3"/><circle cx="306.3" cy="665.6" r="2.3"/><circle cx="306.3" cy="690.5" r="2.3"/><circle cx="308.7" cy="695.3" r="2.3"/><circle cx="312.7" cy="659.9" r="2.3"/><circle cx="312.7" cy="688.1" r="2.3"/><circle cx="314.3" cy="680.8" r="2.3"/><circle cx="315.1" cy="689.7" r="2.3"/><circle cx="316.7" cy="676.8" r="2.3"/><circle cx="318.4" cy="686.5" r="2.3"/><circle cx="319.2" cy="667.2" r="2.3"/><circle cx="320.0" cy="688.1" r="2.3"/><circle cx="320.8" cy="677.6" r="2.3"/><circle cx="321.6" cy="694.5" r="2.3"/><circle cx="322.4" cy="665.6" r="2.3"/><circle cx="323.2" cy="696.1" r="2.3"/><circle cx="323.2" cy="680.0" r="2.3"/><circle cx="324.0" cy="677.6" r="2.3"/><circle cx="325.6" cy="681.6" r="2.3"/><circle cx="327.2" cy="664.0" r="2.3"/><circle cx="328.8" cy="671.2" r="2.3"/><circle cx="329.6" cy="681.6" r="2.3"/><circle cx="330.4" cy="684.1" r="2.3"/><circle cx="335.2" cy="678.4" r="2.3"/><circle cx="336.8" cy="674.4" r="2.3"/><circle cx="337.6" cy="664.0" r="2.3"/><circle cx="339.3" cy="673.6" r="2.3"/><circle cx="340.1" cy="647.1" r="2.3"/><circle cx="341.7" cy="684.1" r="2.3"/><circle cx="342.5" cy="655.9" r="2.3"/><circle cx="343.3" cy="654.3" r="2.3"/><circle cx="344.9" cy="641.4" r="2.3"/><circle cx="345.7" cy="665.6" r="2.3"/><circle cx="346.5" cy="650.3" r="2.3"/><circle cx="346.5" cy="674.4" r="2.3"/><circle cx="347.3" cy="679.2" r="2.3"/><circle cx="347.3" cy="647.9" r="2.3"/><circle cx="352.1" cy="662.3" r="2.3"/><circle cx="352.9" cy="666.4" r="2.3"/><circle cx="352.1" cy="639.8" r="2.3"/><circle cx="352.9" cy="638.2" r="2.3"/><circle cx="353.7" cy="654.3" r="2.3"/><circle cx="356.1" cy="641.4" r="2.3"/><circle cx="357.7" cy="657.5" r="2.3"/><circle cx="356.9" cy="645.5" r="2.3"/><circle cx="359.3" cy="639.8" r="2.3"/><circle cx="359.3" cy="663.2" r="2.3"/><circle cx="360.2" cy="664.8" r="2.3"/><circle cx="385.1" cy="629.4" r="2.3"/><circle cx="390.2" cy="633.3" r="2.3"/><circle cx="392.6" cy="630.1" r="2.3"/><circle cx="394.2" cy="625.3" r="2.3"/><circle cx="396.6" cy="626.1" r="2.3"/><circle cx="393.4" cy="630.9" r="2.3"/><circle cx="390.2" cy="641.4" r="2.3"/><circle cx="400.7" cy="641.4" r="2.3"/><circle cx="405.5" cy="601.2" r="2.3"/><circle cx="414.3" cy="606.0" r="2.3"/></g>
<rect x="87.5" y="508.5" width="455.4" height="349" fill="none" stroke="#262626" stroke-width="1.25"/>
<path d="M87.50 857.5v-4.6M87.50 508.5v4.6M87.5 857.50h4.6M542.9 857.50h-4.6M178.58 857.5v-4.6M178.58 508.5v4.6M87.5 787.70h4.6M542.9 787.70h-4.6M269.66 857.5v-4.6M269.66 508.5v4.6M87.5 717.90h4.6M542.9 717.90h-4.6M360.74 857.5v-4.6M360.74 508.5v4.6M87.5 648.10h4.6M542.9 648.10h-4.6M451.82 857.5v-4.6M451.82 508.5v4.6M87.5 578.30h4.6M542.9 578.30h-4.6M542.90 857.5v-4.6M542.90 508.5v4.6M87.5 508.50h4.6M542.9 508.50h-4.6" stroke="#262626" stroke-width="1.1" fill="none"/>
<g font-size="19.5" fill="#1a1a1a"><text x="87.50" y="883.50" text-anchor="middle">240</text><text x="80.00" y="865.60" text-anchor="end">240</text><text x="178.58" y="883.50" text-anchor="middle">260</text><text x="80.00" y="795.80" text-anchor="end">260</text><text x="269.66" y="883.50" text-anchor="middle">280</text><text x="80.00" y="726.00" text-anchor="end">280</text><text x="360.74" y="883.50" text-anchor="middle">300</text><text x="80.00" y="656.20" text-anchor="end">300</text><text x="451.82" y="883.50" text-anchor="middle">320</text><text x="80.00" y="586.40" text-anchor="end">320</text><text x="542.90" y="883.50" text-anchor="middle">340</text><text x="80.00" y="516.60" text-anchor="end">340</text></g>
<text x="315.00" y="911.00" font-size="21.75" text-anchor="middle" fill="#1a1a1a">In-situ Temperature (K)</text>
<text transform="translate(39.20,682.50) rotate(-90)" x="0" y="0" font-size="21.75" text-anchor="middle" fill="#1a1a1a">Fused LST (K)</text>
<g font-size="19.5" fill="#000"><text x="110" y="534.30" fill="#ff0000">AR (Clear sky)</text><text x="110.00" y="555.20">Bias =</text><text x="173.41" y="555.20">0.31</text><text x="110" y="576.10">RMSE = 2.12</text><text x="110" y="597.00">N = 160</text><text x="520.4" y="784.80" fill="#0000e6" text-anchor="end">AR (Cloudy sky)</text><text x="397.16" y="805.70">Bias =</text><rect x="468.45" y="798.50" width="6.2" height="1.6" fill="#7a7a7a"/><text x="482.45" y="805.70">1.06</text><text x="520.4" y="826.60" text-anchor="end">RMSE = 3.87</text><text x="520.4" y="847.50" text-anchor="end">N = 228</text></g>
<g fill="#ff0000" stroke="#d00000" stroke-width="0.6"><circle cx="760.0" cy="795.5" r="2.3"/><circle cx="767.1" cy="795.5" r="2.3"/><circle cx="791.9" cy="774.8" r="2.3"/><circle cx="809.0" cy="767.8" r="2.3"/><circle cx="811.3" cy="763.6" r="2.3"/><circle cx="815.5" cy="760.7" r="2.3"/><circle cx="826.0" cy="748.1" r="2.3"/><circle cx="860.5" cy="725.6" r="2.3"/><circle cx="862.0" cy="719.6" r="2.3"/><circle cx="864.3" cy="710.6" r="2.3"/><circle cx="866.5" cy="709.8" r="2.3"/><circle cx="888.3" cy="682.8" r="2.3"/><circle cx="892.1" cy="694.1" r="2.3"/><circle cx="899.6" cy="678.3" r="2.3"/><circle cx="902.6" cy="679.0" r="2.3"/><circle cx="907.1" cy="671.5" r="2.3"/><circle cx="909.3" cy="672.7" r="2.3"/><circle cx="915.3" cy="665.5" r="2.3"/><circle cx="916.8" cy="659.5" r="2.3"/><circle cx="923.8" cy="663.3" r="2.3"/><circle cx="938.1" cy="642.4" r="2.3"/><circle cx="945.6" cy="628.8" r="2.3"/></g>
<line x1="677.5" y1="857.5" x2="1132.9" y2="508.5" stroke="#000" stroke-width="1.1" stroke-dasharray="5 5.8"/>
<g fill="#0000ff" stroke="#0000c8" stroke-width="0.6"><circle cx="727.0" cy="810.8" r="2.3"/><circle cx="730.6" cy="816.7" r="2.3"/><circle cx="743.5" cy="813.2" r="2.3"/><circle cx="748.8" cy="807.3" r="2.3"/><circle cx="751.2" cy="810.8" r="2.3"/><circle cx="754.1" cy="801.4" r="2.3"/><circle cx="754.7" cy="794.9" r="2.3"/><circle cx="757.1" cy="801.4" r="2.3"/><circle cx="757.7" cy="797.8" r="2.3"/><circle cx="759.5" cy="796.7" r="2.3"/><circle cx="763.0" cy="795.5" r="2.3"/><circle cx="764.8" cy="794.9" r="2.3"/><circle cx="772.4" cy="790.8" r="2.3"/><circle cx="772.4" cy="797.8" r="2.3"/><circle cx="777.7" cy="788.4" r="2.3"/><circle cx="778.9" cy="803.1" r="2.3"/><circle cx="780.7" cy="800.8" r="2.3"/><circle cx="779.5" cy="782.5" r="2.3"/><circle cx="785.4" cy="776.6" r="2.3"/><circle cx="786.6" cy="781.3" r="2.3"/><circle cx="787.2" cy="784.3" r="2.3"/><circle cx="787.8" cy="768.9" r="2.3"/><circle cx="790.1" cy="790.2" r="2.3"/><circle cx="791.3" cy="771.3" r="2.3"/><circle cx="792.5" cy="791.3" r="2.3"/><circle cx="788.9" cy="777.8" r="2.3"/><circle cx="791.3" cy="779.0" r="2.3"/><circle cx="794.8" cy="777.8" r="2.3"/><circle cx="798.4" cy="777.8" r="2.3"/><circle cx="797.8" cy="784.3" r="2.3"/><circle cx="798.4" cy="743.0" r="2.3"/><circle cx="799.0" cy="762.5" r="2.3"/><circle cx="801.9" cy="764.2" r="2.3"/><circle cx="804.3" cy="776.0" r="2.3"/><circle cx="806.0" cy="777.8" r="2.3"/><circle cx="807.2" cy="764.2" r="2.3"/><circle cx="809.0" cy="760.7" r="2.3"/><circle cx="809.6" cy="774.8" r="2.3"/><circle cx="811.3" cy="761.9" r="2.3"/><circle cx="813.7" cy="756.6" r="2.3"/><circle cx="815.5" cy="769.5" r="2.3"/><circle cx="814.9" cy="760.1" r="2.3"/><circle cx="820.0" cy="751.9" r="2.3"/><circle cx="821.5" cy="754.9" r="2.3"/><circle cx="822.3" cy="754.1" r="2.3"/><circle cx="823.0" cy="763.1" r="2.3"/><circle cx="820.0" cy="764.6" r="2.3"/><circle cx="819.3" cy="767.6" r="2.3"/><circle cx="824.5" cy="717.8" r="2.3"/><circle cx="831.3" cy="742.9" r="2.3"/><circle cx="832.0" cy="741.4" r="2.3"/><circle cx="835.0" cy="739.1" r="2.3"/><circle cx="841.0" cy="733.1" r="2.3"/><circle cx="842.5" cy="736.1" r="2.3"/><circle cx="848.5" cy="728.6" r="2.3"/><circle cx="849.3" cy="739.8" r="2.3"/><circle cx="851.5" cy="721.8" r="2.3"/><circle cx="853.0" cy="747.4" r="2.3"/><circle cx="855.3" cy="727.1" r="2.3"/><circle cx="856.8" cy="725.6" r="2.3"/><circle cx="857.5" cy="716.6" r="2.3"/><circle cx="858.3" cy="718.8" r="2.3"/><circle cx="859.0" cy="734.6" r="2.3"/><circle cx="859.8" cy="742.1" r="2.3"/><circle cx="860.5" cy="715.1" r="2.3"/><circle cx="860.5" cy="739.1" r="2.3"/><circle cx="868.8" cy="726.3" r="2.3"/><circle cx="869.6" cy="730.1" r="2.3"/><circle cx="868.8" cy="706.8" r="2.3"/><circle cx="869.6" cy="707.6" r="2.3"/><circle cx="862.8" cy="700.8" r="2.3"/><circle cx="874.8" cy="704.6" r="2.3"/><circle cx="877.8" cy="709.8" r="2.3"/><circle cx="878.6" cy="703.1" r="2.3"/><circle cx="877.8" cy="721.1" r="2.3"/><circle cx="880.1" cy="714.3" r="2.3"/><circle cx="880.1" cy="696.3" r="2.3"/><circle cx="880.1" cy="701.6" r="2.3"/><circle cx="883.1" cy="702.3" r="2.3"/><circle cx="884.6" cy="707.6" r="2.3"/><circle cx="886.1" cy="702.3" r="2.3"/><circle cx="887.6" cy="722.6" r="2.3"/><circle cx="889.8" cy="709.8" r="2.3"/><circle cx="889.1" cy="666.7" r="2.3"/><circle cx="893.6" cy="694.1" r="2.3"/><circle cx="892.8" cy="693.3" r="2.3"/><circle cx="897.3" cy="682.8" r="2.3"/><circle cx="898.1" cy="688.0" r="2.3"/><circle cx="904.1" cy="667.0" r="2.3"/><circle cx="913.1" cy="667.3" r="2.3"/><circle cx="973.3" cy="637.7" r="2.3"/></g>
<rect x="677.5" y="508.5" width="455.4" height="349" fill="none" stroke="#262626" stroke-width="1.25"/>
<path d="M677.50 857.5v-4.6M677.50 508.5v4.6M677.5 857.50h4.6M1132.9 857.50h-4.6M768.58 857.5v-4.6M768.58 508.5v4.6M677.5 787.70h4.6M1132.9 787.70h-4.6M859.66 857.5v-4.6M859.66 508.5v4.6M677.5 717.90h4.6M1132.9 717.90h-4.6M950.74 857.5v-4.6M950.74 508.5v4.6M677.5 648.10h4.6M1132.9 648.10h-4.6M1041.82 857.5v-4.6M1041.82 508.5v4.6M677.5 578.30h4.6M1132.9 578.30h-4.6M1132.90 857.5v-4.6M1132.90 508.5v4.6M677.5 508.50h4.6M1132.9 508.50h-4.6" stroke="#262626" stroke-width="1.1" fill="none"/>
<g font-size="19.5" fill="#1a1a1a"><text x="677.50" y="883.50" text-anchor="middle">240</text><text x="670.00" y="865.60" text-anchor="end">240</text><text x="768.58" y="883.50" text-anchor="middle">260</text><text x="670.00" y="795.80" text-anchor="end">260</text><text x="859.66" y="883.50" text-anchor="middle">280</text><text x="670.00" y="726.00" text-anchor="end">280</text><text x="950.74" y="883.50" text-anchor="middle">300</text><text x="670.00" y="656.20" text-anchor="end">300</text><text x="1041.82" y="883.50" text-anchor="middle">320</text><text x="670.00" y="586.40" text-anchor="end">320</text><text x="1132.90" y="883.50" text-anchor="middle">340</text><text x="670.00" y="516.60" text-anchor="end">340</text></g>
<text x="905.00" y="911.00" font-size="21.75" text-anchor="middle" fill="#1a1a1a">In-situ Temperature (K)</text>
<text transform="translate(629.20,682.50) rotate(-90)" x="0" y="0" font-size="21.75" text-anchor="middle" fill="#1a1a1a">Fused LST (K)</text>
<g font-size="19.5" fill="#000"><text x="700" y="534.30" fill="#ff0000">YK (Clear sky)</text><text x="700.00" y="555.20">Bias =</text><text x="763.41" y="555.20">0.17</text><text x="700" y="576.10">RMSE = 2.64</text><text x="700" y="597.00">N = 29</text><text x="1110.4" y="784.80" fill="#0000e6" text-anchor="end">YK (Cloudy sky)</text><text x="987.16" y="805.70">Bias =</text><rect x="1058.45" y="798.50" width="6.2" height="1.6" fill="#7a7a7a"/><text x="1072.45" y="805.70">1.72</text><text x="1110.4" y="826.60" text-anchor="end">RMSE = 3.45</text><text x="1110.4" y="847.50" text-anchor="end">N = 95</text></g>
</svg></body></html>
